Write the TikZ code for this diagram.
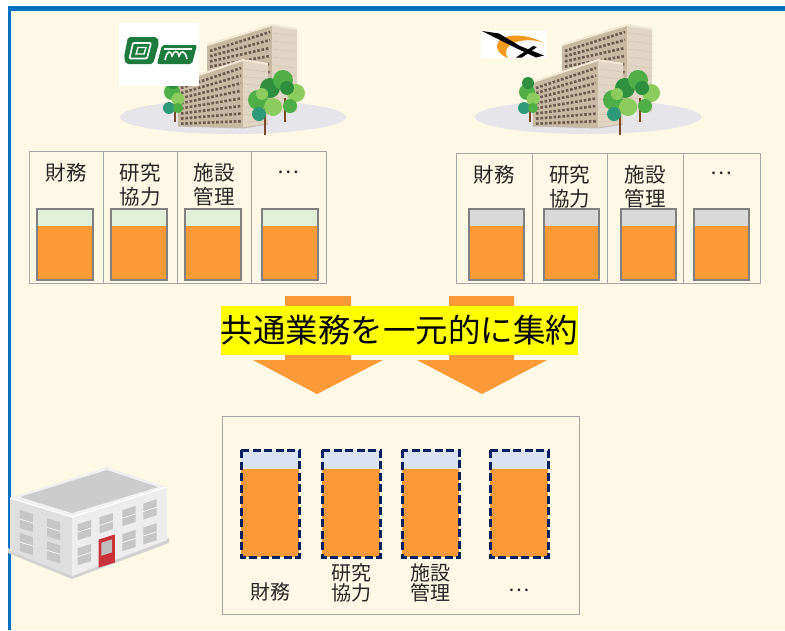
\documentclass[tikz,border=0pt]{standalone}
\usepackage{fontspec}
\newfontfamily\jp{Noto Sans CJK JP}
\usetikzlibrary{calc}

\definecolor{cream}{HTML}{FEF9E6}
\definecolor{frameblue}{HTML}{0070C0}
\definecolor{cuporange}{HTML}{FB9A36}
\definecolor{cupgray}{HTML}{808080}
\definecolor{panelgray}{HTML}{A6A6A6}
\definecolor{lightgreen}{HTML}{E2EFDA}
\definecolor{lightgray}{HTML}{D9D9D9}
\definecolor{lightblue}{HTML}{DAE3F3}
\definecolor{navy}{HTML}{002060}
\definecolor{hilite}{HTML}{FFFF00}
\definecolor{ground}{HTML}{E5E5EA}
\definecolor{tanface}{HTML}{C7B9A2}
\definecolor{tanend}{HTML}{E0D6C3}
\definecolor{tanroof}{HTML}{F1E9D6}
\definecolor{window}{HTML}{6C5B50}
\definecolor{trunk}{HTML}{7A4A2A}
\definecolor{leafA}{HTML}{4FAE47}
\definecolor{leafB}{HTML}{2F8F3F}
\definecolor{leafC}{HTML}{8CCB5E}
\definecolor{leafD}{HTML}{2E9A78}
\definecolor{logogreen}{HTML}{1B7A3C}
\definecolor{logoorange}{HTML}{F39A1E}
\definecolor{doorred}{HTML}{C8323A}

\tikzset{
  lbl/.style={font=\jp\fontsize{20.5}{23.5}\selectfont, align=center, inner sep=0pt, text=black!85},
  lblb/.style={font=\jp\fontsize{20}{20}\selectfont, align=center, inner sep=0pt, text=black!85},
  panel/.style={draw=panelgray, line width=1pt},
  cupline/.style={draw=cupgray, line width=2pt},
  dashcup/.style={draw=navy, line width=3pt, dash pattern=on 8pt off 3.5pt},
  win/.style={draw=window, line width=2.6pt, dash pattern=on 2.6pt off 1.8pt},
  endline/.style={draw=tanface!80, line width=0.6pt},
}

% one beaker-style box of a panel: x-left, x-right, colour of the empty part
\newcommand\drawbeaker[3]{%
  \fill[#3] (#1,208.5) rectangle (#2,225.5);
  \fill[cuporange] (#1,225.5) rectangle (#2,280);
  \draw[cupline] (#1,208.5) rectangle (#2,280);}

% dashed box of the merged office
\newcommand\dashbeaker[2]{%
  \fill[lightblue] (#1,450) rectangle (#2,557);
  \fill[cuporange] (#1,469) rectangle (#2,557);
  \draw[dashcup] (#1,450) rectangle (#2,557);}

% a campus: ground, two slab buildings and trees
\newcommand\campus{%
  \fill[ground] (233,117) ellipse [x radius=113, y radius=17];
  % rear slab
  \fill[tanface] (207,45) -- (272,25) -- (272,112) -- (207,112) -- cycle;
  \fill[tanend] (272,25) -- (297,29) -- (297,112) -- (272,112) -- cycle;
  \draw[tanroof, line width=2pt] (207,45) -- (272,25) -- (297,29);
  \foreach \k in {0,...,8} {\draw[win] (210,51+5.2*\k) -- (270,32+8*\k);}
  \foreach \k in {0,...,8} {\draw[endline] (273,33+8*\k) -- (296,36+8*\k);}
  % front slab
  \fill[tanface] (178,82) -- (243,60) -- (243,128) -- (178,126) -- cycle;
  \fill[tanend] (243,60) -- (268,64) -- (268,124) -- (243,128) -- cycle;
  \draw[tanroof, line width=2pt] (178,82) -- (243,60) -- (268,64);
  \foreach \k in {0,...,7} {\draw[win] (181,88+5.1*\k) -- (241,68+7.6*\k);}
  \foreach \k in {0,...,7} {\draw[endline] (244,69+7.6*\k) -- (267,72+7*\k);}
  \draw[tanend!70!gray, line width=1pt] (178,126) -- (243,128) -- (268,124);
  % small tree on the left
  \draw[trunk, line width=1.6pt] (175,98) -- (175,122);
  \fill[leafA] (172,92) circle (8);
  \fill[leafC] (178,99) circle (6.5);
  \fill[leafB] (173,83) circle (6);
  \fill[leafD] (169,108) circle (6);
  \fill[leafA] (178,108) circle (5);
  % tree group on the right
  \draw[trunk, line width=1.8pt] (265,105) -- (265,135);
  \draw[trunk, line width=1.6pt] (285,98) -- (285,122);
  \fill[leafA] (258,100) circle (10);
  \fill[leafB] (270,88) circle (10);
  \fill[leafA] (283,80) circle (10);
  \fill[leafC] (296,93) circle (9);
  \fill[leafB] (287,88) circle (7);
  \fill[leafD] (259,114) circle (7);
  \fill[leafC] (273,107) circle (9);
  \fill[leafA] (290,106) circle (7);
  \fill[leafC] (262,94) circle (6);
}

\begin{document}
\begin{tikzpicture}[x=1pt, y=-1pt]
  \useasboundingbox (0,0) rectangle (785,630);
  \fill[white] (0,0) rectangle (785,630);
  \fill[cream] (8,6) rectangle (785,630);
  \draw[frameblue, line width=4.5pt] (8,8.3) -- (785,8.3);
  \draw[frameblue, line width=3.5pt] (9.5,6) -- (9.5,630);

  % the two campuses
  \campus
  \begin{scope}[xshift=355pt]
    \campus
  \end{scope}

  % emblem of the first university
  \fill[white] (119,23) rectangle (199,86);
  \fill[logogreen, rounded corners=2pt] (128,37) -- (157,37) -- (159,43) -- (153,64) -- (126,64) -- (124,57) -- cycle;
  \draw[white, line width=1.6pt, rounded corners=1pt] (133,43) -- (151,43) -- (147,58.5) -- (129.5,58.5) -- cycle;
  \draw[white, line width=1.3pt] (138,47.5) -- (146,47.5) -- (144,54) -- (136,54) -- cycle;
  \fill[logogreen, rounded corners=2pt] (162,45) -- (197,45) -- (192,64) -- (157,64) -- cycle;
  \draw[white, line width=1.5pt] (165,60) .. controls (167,50) and (171,50) .. (172,56)
        .. controls (174,50) and (178,50) .. (179,56) .. controls (181,50) and (185,50) .. (187,59);
  \draw[white, line width=1.3pt] (164,49) -- (192,49);

  % emblem of the second university
  \fill[white] (481,31) rectangle (547,58);
  \fill[logoorange] (544,43) .. controls (528,34) and (506,33) .. (499,41)
        .. controls (494,47) and (499,55) .. (508,58)
        .. controls (503,52) and (507,45) .. (516,42)
        .. controls (526,39) and (537,40) .. (544,43) -- cycle;
  \fill[black] (482,31) -- (499,33.5) -- (520,46) -- (544,55.5) -- (536,57.5) -- (518,49) -- (497,38.5) -- cycle;
  \fill[black] (516,57.5) -- (522,57.5) -- (537,47) -- (533,46) -- cycle;

  % first university's operations
  \draw[panel] (29,151) rectangle (326,283);
  \draw[panel] (103,151) -- (103,283) (177,151) -- (177,283) (251,151) -- (251,283);
  \node[lbl] (a1) at (66,173) {財務};
  \node[lbl] (a2) at (140,184.5) {研究\\協力};
  \node[lbl] (a3) at (214,184.5) {施設\\管理};
  \node[lbl] (a4) at (288,172) {…};
  \drawbeaker{37}{93}{lightgreen}
  \drawbeaker{111}{167}{lightgreen}
  \drawbeaker{185}{241}{lightgreen}
  \drawbeaker{262}{318}{lightgreen}

  % second university's operations
  \draw[panel] (456,153) rectangle (760,283);
  \draw[panel] (532,153) -- (532,283) (607,153) -- (607,283) (683,153) -- (683,283);
  \node[lbl] (b1) at (494,175) {財務};
  \node[lbl] (b2) at (569.5,186.5) {研究\\協力};
  \node[lbl] (b3) at (645,186.5) {施設\\管理};
  \node[lbl] (b4) at (721.5,173) {…};
  \drawbeaker{469}{524}{lightgray}
  \drawbeaker{544}{599}{lightgray}
  \drawbeaker{621}{676}{lightgray}
  \drawbeaker{694}{749}{lightgray}

  % merging arrows
  \fill[cuporange] (285,296) -- (351,296) -- (351,360) -- (383,360) -- (317,394)
        -- (253,360) -- (285,360) -- cycle;
  \fill[cuporange] (449,296) -- (514,296) -- (514,360) -- (547,360) -- (482,394)
        -- (417,360) -- (449,360) -- cycle;
  \node[fill=hilite, minimum width=357pt, minimum height=49pt, inner sep=0pt,
        font=\jp\fontsize{32.5}{35}\selectfont] (merge) at (399.5,330.5) {共通業務を一元的に集約};

  % the shared office building
  \fill[gray!35] (8,553) -- (72,579) -- (169,543) -- (169,538) -- (72,574) -- (8,548) -- cycle;
  \fill[gray!25] (10,498) -- (72,517) -- (72,576) -- (10,551) -- cycle;
  \fill[gray!14] (72,517) -- (167,487) -- (167,540) -- (72,576) -- cycle;
  \fill[gray!12] (10,498) -- (107,467) -- (167,487) -- (72,517) -- cycle;
  \fill[gray!40] (20,497) -- (107,470) -- (158,487) -- (72,513) -- cycle;
  \draw[white, line width=1.2pt] (10,498) -- (72,517) -- (167,487);
  \begin{scope}[shift={(72,517)}, x={(95pt,30pt)}, y={(0pt,-1pt)}]
    \foreach \u in {0.06,0.29,0.53,0.75} {
      \fill[gray!45] (\u,9) -- (\u+0.14,9) -- (\u+0.14,25) -- (\u,25) -- cycle;
      \draw[white, line width=0.6pt] (\u,17) -- (\u+0.14,17);
    }
    \foreach \u in {0.06,0.53,0.75} {
      \fill[gray!45] (\u,33) -- (\u+0.14,33) -- (\u+0.14,50) -- (\u,50) -- cycle;
      \draw[white, line width=0.6pt] (\u,41.5) -- (\u+0.14,41.5);
    }
    \fill[doorred] (0.28,31) -- (0.45,31) -- (0.45,59) -- (0.28,59) -- cycle;
    \fill[gray!50] (0.31,35) -- (0.42,35) -- (0.42,48) -- (0.31,48) -- cycle;
  \end{scope}
  \begin{scope}[shift={(10,498)}, x={(62pt,-19pt)}, y={(0pt,-1pt)}]
    \foreach \u in {0.16,0.6} {
      \foreach \v in {9,32} {
        \fill[gray!45] (\u,\v) -- (\u+0.21,\v) -- (\u+0.21,\v+18) -- (\u,\v+18) -- cycle;
        \draw[white, line width=0.6pt] (\u,\v+9) -- (\u+0.21,\v+9);
      }
    }
  \end{scope}

  % merged operations
  \draw[panel] (222,416) rectangle (579,614);
  \dashbeaker{241}{299}
  \dashbeaker{322}{380}
  \dashbeaker{402}{459}
  \dashbeaker{490}{548}
  \node[lblb] (c1) at (270,592) {財務};
  \node[lblb] (c2) at (351,583) {研究\\協力};
  \node[lblb] (c3) at (430.5,583) {施設\\管理};
  \node[lblb] (c4) at (519,590) {…};
\end{tikzpicture}
\end{document}
